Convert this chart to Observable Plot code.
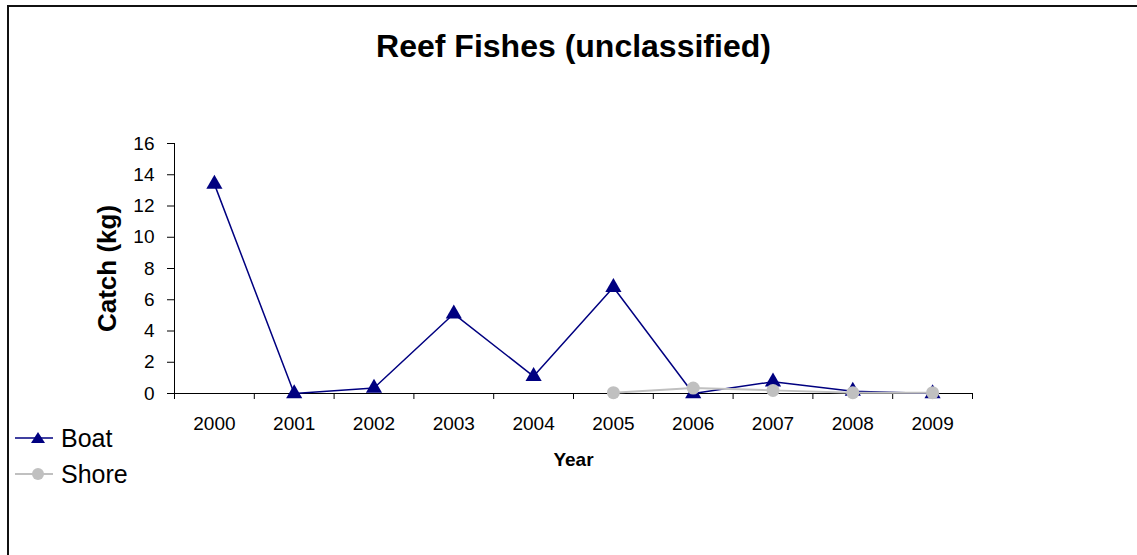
<!DOCTYPE html>
<html>
<head>
<meta charset="utf-8">
<script src="https://cdn.jsdelivr.net/npm/d3@7"></script>
<script src="https://cdn.jsdelivr.net/npm/@observablehq/plot@0.6"></script>
<style>
  html, body { margin: 0; padding: 0; background: #fff; }
  #wrap { position: relative; width: 1137px; height: 555px; overflow: hidden; font-family: "Liberation Sans", Arial, sans-serif; }
  #border { position: absolute; left: 7px; top: 5px; width: 1200px; height: 600px; border-left: 2px solid #111; border-top: 2px solid #111; box-sizing: border-box; pointer-events: none; }
  #legend { position: absolute; left: 15px; top: 420px; font-size: 25px; color: #000; }
  #legend .item { display: flex; align-items: center; height: 36px; }
  #legend svg { margin-right: 8px; }
  #chart { position: absolute; left: 0; top: 0; }
</style>
</head>
<body>
<div id="wrap">
  <div id="chart"></div>
  <div id="legend"></div>
  <div id="border"></div>
</div>
<script>
const years = [2000, 2001, 2002, 2003, 2004, 2005, 2006, 2007, 2008, 2009];
const boatValues = [13.4, 0, 0.35, 5.1, 1.1, 6.8, 0, 0.75, 0.15, 0];
const shoreValues = [null, null, null, null, null, 0.05, 0.35, 0.2, 0.05, 0.05];
const yTicks = [0, 2, 4, 6, 8, 10, 12, 14, 16];
const seriesNames = ["Boat", "Shore"];
const seriesColors = ["#000080", "#c0c0c0"];
const title = "Reef Fishes (unclassified)";
const xLabel = "Year";
const yLabel = "Catch (kg)";

const boat = years.map((yr, i) => ({year: yr, value: boatValues[i]}));
const shore = years.map((yr, i) => ({year: yr, value: shoreValues[i]})).filter(d => d.value != null);
const xDomain = [years[0] - 0.5, years[years.length - 1] + 0.5];
const bounds = years.map(y => y - 0.5).concat([years[years.length - 1] + 0.5]);

const chart = Plot.plot({
  width: 1137,
  height: 555,
  marginLeft: 174,
  marginRight: 165,
  marginTop: 143,
  marginBottom: 162,
  style: {fontFamily: '"Liberation Sans", Arial, sans-serif', fontSize: "19px", color: "#000", background: "transparent"},
  x: {type: "linear", domain: xDomain},
  y: {domain: [0, 16]},
  marks: [
    Plot.ruleX([xDomain[0]], {y1: 0, y2: 16, stroke: "#000", strokeWidth: 1}),
    Plot.ruleY([0], {stroke: "#000", strokeWidth: 1}),
    Plot.axisY({ticks: yTicks, tickSize: 7, tickPadding: 13, label: null, fontSize: 19, stroke: "#000"}),
    Plot.axisX({ticks: bounds, tickFormat: () => "", tickSize: 6, label: null, stroke: "#000"}),
    Plot.axisX({ticks: years, tickFormat: d => String(d), tickSize: 0, tickPadding: 23, label: null, fontSize: 19}),
    Plot.line(boat, {x: "year", y: "value", stroke: seriesColors[0], strokeWidth: 1.5}),
    Plot.dot(boat, {x: "year", y: "value", symbol: "triangle", r: 6, fill: seriesColors[0], stroke: "none"}),
    Plot.line(shore, {x: "year", y: "value", stroke: seriesColors[1], strokeWidth: 2}),
    Plot.dot(shore, {x: "year", y: "value", symbol: "circle", r: 6.5, fill: seriesColors[1], stroke: "none"}),
    Plot.text([title], {frameAnchor: "top", dy: -109, fontSize: 32, fontWeight: "bold", lineAnchor: "top"}),
    Plot.text([yLabel], {frameAnchor: "left", dx: -67, rotate: -90, textAnchor: "middle", fontSize: 26, fontWeight: "bold"}),
    Plot.text([xLabel], {frameAnchor: "bottom", dy: 72, fontSize: 19, fontWeight: "bold"})
  ]
});
document.getElementById("chart").appendChild(chart);

const legend = document.getElementById("legend");
seriesNames.forEach((name, i) => {
  const item = document.createElement("div");
  item.className = "item";
  const sym = i === 0
    ? `<polygon points="23,6 30,17 16,17" fill="${seriesColors[i]}"/>`
    : `<circle cx="23" cy="12" r="6" fill="${seriesColors[i]}"/>`;
  item.innerHTML = `<svg width="38" height="24"><line x1="0" y1="12" x2="38" y2="12" stroke="${seriesColors[i]}" stroke-width="${i === 0 ? 1.5 : 2}"/>${sym}</svg><span>${name}</span>`;
  legend.appendChild(item);
});
</script>
</body>
</html>
